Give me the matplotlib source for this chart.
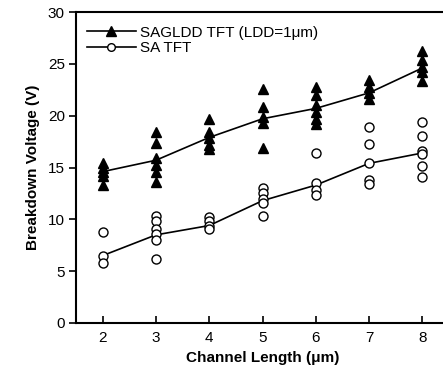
import numpy as np
import matplotlib.pyplot as plt
from matplotlib.lines import Line2D

plt.rcParams['font.family'] = ['Liberation Sans', 'DejaVu Sans']

# channel lengths (um)
lengths = [2, 3, 4, 5, 6, 7, 8]

# SAGLDD TFT, every measured device per channel length
sagldd_pts = [
    [15.4, 15.0, 14.6, 14.2, 13.3],
    [18.4, 17.4, 15.9, 15.2, 14.6, 13.6],
    [19.7, 18.4, 17.8, 17.2, 16.8],
    [22.6, 20.8, 19.9, 19.3, 16.9],
    [22.8, 22.0, 21.0, 20.4, 19.7, 19.2],
    [23.4, 22.8, 22.2, 21.6],
    [26.2, 25.4, 24.7, 24.2, 23.3],
]
sagldd_line = [14.6, 15.7, 17.9, 19.7, 20.7, 22.2, 24.6]

# SA TFT
sa_pts = [
    [8.8, 6.5, 5.8],
    [10.3, 9.8, 9.1, 8.6, 8.0, 6.2],
    [10.2, 9.8, 9.4, 9.1],
    [13.0, 12.5, 12.0, 11.6, 10.3],
    [16.4, 13.5, 12.8, 12.3],
    [18.9, 17.3, 15.4, 13.8, 13.4],
    [19.4, 18.0, 16.6, 16.3, 15.1, 14.1],
]
sa_line = [6.5, 8.5, 9.4, 11.8, 13.3, 15.4, 16.4]

fig = plt.figure(figsize=(4.43, 3.80), dpi=100)
ax = fig.add_axes([76 / 443, 57 / 380, 373 / 443, 311 / 380])

for x, ys in zip(lengths, sagldd_pts):
    ax.plot([x] * len(ys), ys, ls='none', marker='^', ms=7.5, color='black')
ax.plot(lengths, sagldd_line, color='black', lw=1.2)

for x, ys in zip(lengths, sa_pts):
    ax.plot([x] * len(ys), ys, ls='none', marker='o', ms=6.5,
            mfc='white', mec='black', mew=1.0)
ax.plot(lengths, sa_line, color='black', lw=1.2, zorder=1)

ax.set_xlim(1.5, 8.5)
ax.set_ylim(0, 30)
ax.set_xticks(lengths)
ax.set_yticks(range(0, 31, 5))
ax.tick_params(axis='x', direction='in', length=5, width=1.2, labelsize=11, pad=6)
ax.tick_params(axis='y', direction='out', length=5, width=1.2, labelsize=11, pad=3)
for s in ax.spines.values():
    s.set_linewidth(1.5)
ax.spines['right'].set_visible(False)

ax.set_xlabel('Channel Length (\u03bcm)', fontsize=11, fontweight='bold', labelpad=4)
ax.set_ylabel('Breakdown Voltage (V)', fontsize=11, fontweight='bold', labelpad=6)

handles = [
    Line2D([], [], color='black', lw=1.2, marker='^', ms=6.5),
    Line2D([], [], color='black', lw=1.2, marker='o', ms=5.5, mfc='white', mec='black'),
]
ax.legend(handles, ['SAGLDD TFT (LDD=1\u03bcm)', 'SA TFT'], loc='upper left',
          frameon=False, fontsize=11, handlelength=3.2, handletextpad=0.3,
          labelspacing=0.1, borderaxespad=0.3, bbox_to_anchor=(0.0, 0.99))

fig.savefig('out.png', dpi=100)
